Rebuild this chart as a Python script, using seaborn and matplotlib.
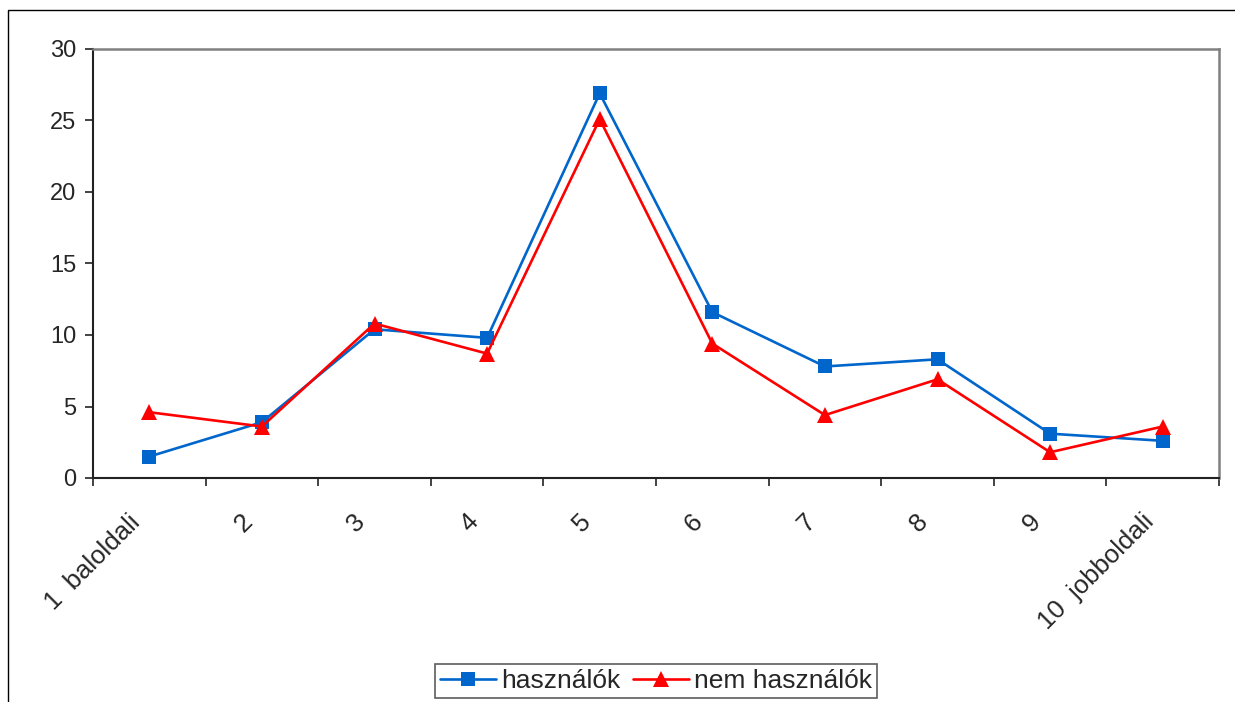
import numpy as np
import pandas as pd
import matplotlib.pyplot as plt
from matplotlib.lines import Line2D
from matplotlib.patches import Rectangle
from matplotlib.transforms import ScaledTranslation
import seaborn as sns

# ── data ──
categories = ["1  baloldali", "2", "3", "4", "5", "6", "7", "8", "9", "10  jobboldali"]
hasznalok = [1.5, 3.9, 10.4, 9.8, 26.9, 11.6, 7.8, 8.3, 3.1, 2.6]
nem_hasznalok = [4.6, 3.6, 10.8, 8.7, 25.1, 9.4, 4.4, 6.9, 1.8, 3.6]
y_ticks = [0, 5, 10, 15, 20, 25, 30]

BLUE = "#0066CC"
RED = "#FF0000"

sns.set_theme(style="white")
plt.rcParams["font.family"] = ["Liberation Sans", "DejaVu Sans"]

df = pd.DataFrame({"pos": np.arange(len(categories)),
                   "hasznalok": hasznalok,
                   "nem": nem_hasznalok})

fig = plt.figure(figsize=(12.35, 7.02), dpi=100)
ax = fig.add_axes([93 / 1235, 1 - 478 / 702, (1219 - 93) / 1235, (478 - 49) / 702])

sns.lineplot(data=df, x="pos", y="hasznalok", ax=ax, color=BLUE, linewidth=1.9,
             marker="s", markersize=10.5, markeredgewidth=0, zorder=3)
sns.lineplot(data=df, x="pos", y="nem", ax=ax, color=RED, linewidth=1.9,
             marker="^", markersize=11.5, markeredgewidth=0, zorder=4)

ax.set_xlim(-0.5, len(categories) - 0.5)
ax.set_ylim(0, 30)
ax.set_yticks(y_ticks)
ax.set_yticklabels([str(t) for t in y_ticks], fontsize=17)
ax.set_xticks(np.arange(len(categories)))
ax.set_xticks(np.arange(len(categories) + 1) - 0.5, minor=True)
ax.tick_params(axis="x", which="major", length=0, pad=29)
ax.tick_params(axis="x", which="minor", length=6, width=1.2, color="#222222",
               direction="out", bottom=True)
ax.tick_params(axis="y", length=6, width=1.2, color="#222222", direction="out",
               left=True, pad=6)
ax.set_xticklabels(categories, fontsize=18.5, rotation=45, ha="right",
                   va="center", rotation_mode="anchor")
# nudge the slanted labels left so they end just before each category centre
shift = ScaledTranslation(-13 / 100, 0, fig.dpi_scale_trans)
for lbl in ax.get_xticklabels():
    lbl.set_transform(lbl.get_transform() + shift)
ax.set_xlabel("")
ax.set_ylabel("")

for side in ["left", "bottom"]:
    ax.spines[side].set_color("#222222")
    ax.spines[side].set_linewidth(1.5)
for side in ["top", "right"]:
    ax.spines[side].set_color("#808080")
    ax.spines[side].set_linewidth(1.8)

handles = [Line2D([], [], color=BLUE, lw=1.9, marker="s", markersize=10.5, markeredgewidth=0),
           Line2D([], [], color=RED, lw=1.9, marker="^", markersize=11.5, markeredgewidth=0)]
leg = fig.legend(handles, ["használók", "nem használók"], loc="center",
                 bbox_to_anchor=(656 / 1235, 1 - 681 / 702), ncol=2, fontsize=19,
                 frameon=True, fancybox=False, edgecolor="#333333",
                 handlelength=2.1, handletextpad=0.2, columnspacing=0.5,
                 borderpad=0.2, borderaxespad=0)
leg.get_frame().set_linewidth(1.2)

# outer chart-area frame (runs off the right and bottom edges)
fig.patches.append(Rectangle((8 / 1235, -0.05), 1.2, 1 - 10 / 702 + 0.05,
                             transform=fig.transFigure, fill=False,
                             edgecolor="black", linewidth=1.0))

fig.savefig("out.png", dpi=100, facecolor="white")
